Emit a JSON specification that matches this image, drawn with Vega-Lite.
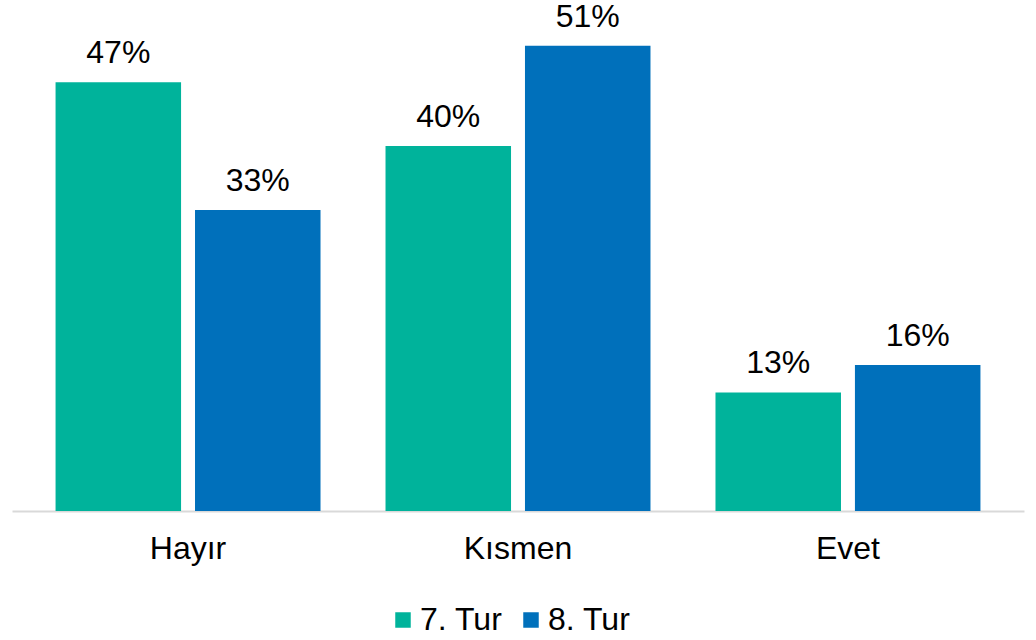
{
  "$schema": "https://vega.github.io/schema/vega-lite/v6.json",
  "width": 1012,
  "height": 511,
  "padding": {"left": 12, "right": 12, "top": 0, "bottom": 0},
  "background": "white",
  "config": {
    "view": {"stroke": null},
    "font": "Liberation Sans"
  },
  "data": {
    "values": [
      {"cevap": "Hayır", "tur": "7. Tur", "oran": 0.47},
      {"cevap": "Hayır", "tur": "8. Tur", "oran": 0.33},
      {"cevap": "Kısmen", "tur": "7. Tur", "oran": 0.40},
      {"cevap": "Kısmen", "tur": "8. Tur", "oran": 0.51},
      {"cevap": "Evet", "tur": "7. Tur", "oran": 0.13},
      {"cevap": "Evet", "tur": "8. Tur", "oran": 0.16}
    ]
  },
  "encoding": {
    "x": {
      "field": "cevap",
      "type": "nominal",
      "sort": ["Hayır", "Kısmen", "Evet"],
      "scale": {"paddingInner": 0.197, "paddingOuter": 0.132},
      "axis": {
        "title": null,
        "labelAngle": 0,
        "labelFontSize": 32,
        "labelColor": "#000000",
        "labelPadding": 22,
        "ticks": false,
        "domainColor": "#d9d9d9",
        "domainWidth": 2,
        "grid": false
      }
    },
    "xOffset": {
      "field": "tur",
      "type": "nominal",
      "scale": {"paddingInner": 0.1, "paddingOuter": 0}
    },
    "y": {
      "field": "oran",
      "type": "quantitative",
      "scale": {"domain": [0, 0.56]},
      "axis": null
    }
  },
  "layer": [
    {
      "mark": {"type": "bar"},
      "encoding": {
        "color": {
          "field": "tur",
          "type": "nominal",
          "scale": {"domain": ["7. Tur", "8. Tur"], "range": ["#00b39b", "#0070bb"]},
          "legend": {
            "title": null,
            "orient": "none",
            "legendX": 375,
            "legendY": 604,
            "direction": "horizontal",
            "symbolType": "square",
            "symbolSize": 240,
            "symbolStrokeWidth": 0,
            "labelFontSize": 32,
            "labelColor": "#000000",
            "labelOffset": 1,
            "columnPadding": 12
          }
        }
      }
    },
    {
      "mark": {"type": "text", "baseline": "alphabetic", "dy": -19, "fontSize": 32, "color": "#000000"},
      "encoding": {
        "text": {"field": "oran", "type": "quantitative", "format": ".0%"}
      }
    }
  ]
}
